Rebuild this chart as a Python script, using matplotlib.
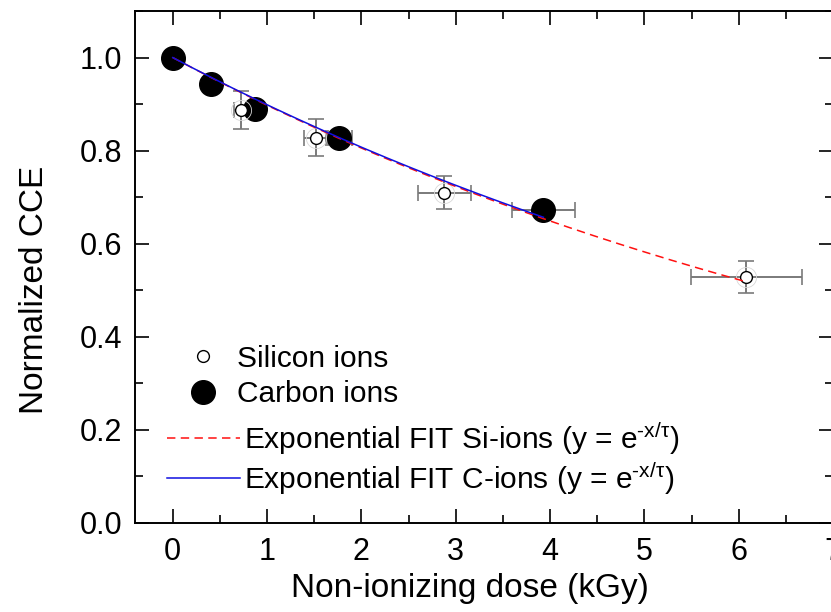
"""
Normalized CCE vs non-ionizing dose, silicon and carbon ions.
"""
import matplotlib
matplotlib.use("Agg")
import matplotlib.pyplot as plt
import numpy as np

plt.rcParams["font.family"] = ["Liberation Sans", "DejaVu Sans"]
plt.rcParams["mathtext.fontset"] = "custom"
plt.rcParams["mathtext.rm"] = "Liberation Sans"
plt.rcParams["mathtext.it"] = "Liberation Sans"
plt.rcParams["mathtext.bf"] = "Liberation Sans:bold"

# silicon ions (open circles)
si_dose = [0.72, 1.52, 2.88, 6.08]
si_cce = [0.888, 0.828, 0.710, 0.528]
si_dose_err = [0.07, 0.13, 0.28, 0.59]
si_cce_err = [0.041, 0.040, 0.036, 0.034]

# carbon ions (filled circles)
c_dose = [0.0, 0.41, 0.87, 1.76, 3.93]
c_cce = [1.0, 0.944, 0.890, 0.827, 0.673]
c_dose_err = [0.0, 0.04, 0.07, 0.14, 0.33]

# decay constants of the two fits (kGy)
tau_si = 9.25
tau_c = 9.35

x_ticks = [0, 1, 2, 3, 4, 5, 6, 7]
y_ticks = [0.0, 0.2, 0.4, 0.6, 0.8, 1.0]

fig = plt.figure(figsize=(8.31, 6.12), dpi=100)
ax = fig.add_axes([135 / 831, 89 / 612, 698 / 831, 512 / 612])

# carbon points (under the fit lines)
ax.errorbar(c_dose, c_cce, xerr=c_dose_err, fmt="none", ecolor="#7a7a7a",
            elinewidth=1.4, capsize=6, capthick=1.2, zorder=2)
c_handle = ax.plot(c_dose, c_cce, "o", color="black", markersize=17,
                   zorder=3)[0]

# silicon points
ax.errorbar(si_dose, si_cce, xerr=si_dose_err, yerr=si_cce_err, fmt="none",
            ecolor="#7a7a7a", elinewidth=1.4, capsize=6, capthick=1.2,
            zorder=2)
ax.plot(si_dose, si_cce, "o", markerfacecolor="none", markeredgecolor="#d8d8d8",
        markeredgewidth=0.6, markersize=14.5, zorder=4)
si_handle = ax.plot(si_dose, si_cce, "o", markerfacecolor="white",
                    markeredgecolor="black", markeredgewidth=1.0,
                    markersize=8.5, zorder=4)[0]

# exponential fits
xs_si = np.linspace(0, si_dose[-1], 200)
xs_c = np.linspace(0, c_dose[-1], 200)
si_fit = ax.plot(xs_si, np.exp(-xs_si / tau_si), color="#ff1010",
                 linewidth=1.1, dashes=(5.5, 3.5), zorder=5)[0]
c_fit = ax.plot(xs_c, np.exp(-xs_c / tau_c), color="#1010e0", linewidth=1.1,
                zorder=6)[0]

ax.set_xlim(-0.4, 7.0)
ax.set_ylim(0.0, 1.1)
ax.set_xticks(x_ticks)
ax.set_yticks(y_ticks)
ax.set_xticks(np.arange(0.0, 7.01, 0.5), minor=True)
ax.set_yticks(np.arange(0.0, 1.101, 0.1), minor=True)
ax.set_yticklabels([f"{v:.1f}" for v in y_ticks])
ax.tick_params(which="both", direction="in", top=True, right=True,
               labelsize=22, width=1.2)
ax.tick_params(axis="x", pad=10)
ax.tick_params(axis="y", pad=9)
ax.tick_params(which="major", length=10)
ax.tick_params(which="minor", length=6)
for s in ax.spines.values():
    s.set_linewidth(1.4)

ax.set_xlabel("Non-ionizing dose (kGy)", fontsize=24)
ax.set_ylabel("Normalized CCE", fontsize=24)
ax.xaxis.set_label_coords((470 - 135) / 698, (523 - 573) / 512)
ax.yaxis.set_label_coords((50 - 135) / 698, (523 - 290) / 512)

leg1 = ax.legend([si_handle, c_handle], ["Silicon ions", "Carbon ions"],
                 loc="upper left", bbox_to_anchor=(45 / 698, 0.348),
                 frameon=False, fontsize=21.5, borderpad=0, borderaxespad=0,
                 handlelength=1.54, handletextpad=0.37, labelspacing=0.25)
ax.add_artist(leg1)
ax.legend([si_fit, c_fit],
          [r"Exponential FIT Si-ions (y = e$^{\text{-x/}\tau}$)",
           r"Exponential FIT C-ions (y = e$^{\text{-x/}\tau}$)"],
          loc="upper left", bbox_to_anchor=(32 / 698, 0.201),
          frameon=False, fontsize=21.5, borderpad=0, borderaxespad=0,
          handlelength=2.44, handletextpad=0.13, labelspacing=0.12)

fig.savefig("out.png", dpi=100)
